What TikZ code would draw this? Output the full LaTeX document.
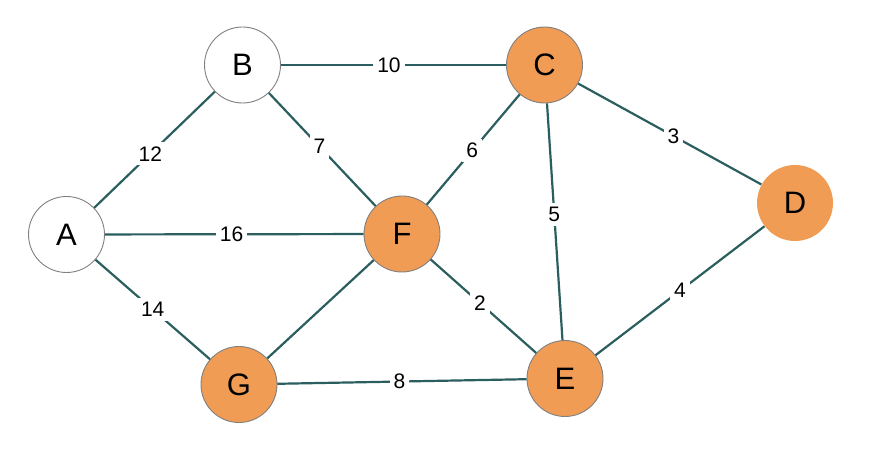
\documentclass[tikz,border=0pt]{standalone}
\usepackage{fontspec}
\setmainfont{Liberation Sans}
\definecolor{nodeorange}{HTML}{F09C55}
\definecolor{edgeteal}{HTML}{2B5E5E}
\definecolor{bordergray}{HTML}{808080}
\tikzset{
  vtx/.style={circle, minimum size=76pt, inner sep=0pt, draw=bordergray, line width=0.9pt, font=\fontsize{31}{31}\selectfont},
  vwhite/.style={vtx, fill=white},
  vorange/.style={vtx, fill=nodeorange},
  vorangenb/.style={vtx, fill=nodeorange, draw=none},
  edge/.style={draw=edgeteal, line width=2.2pt},
  wlabel/.style={fill=white, inner sep=4pt, text=black, font=\fontsize{21}{21}\selectfont}
}
\begin{document}
\begin{tikzpicture}[x=1pt,y=1pt]
\useasboundingbox (0,0) rectangle (873,463);
\node[vwhite] (A) at (66.5,228.5) {A};
\node[vwhite] (B) at (242.5,398) {B};
\node[vorange] (C) at (544.5,398) {C};
\node[vorangenb] (D) at (795,260) {D};
\node[vorange] (E) at (565,84.5) {E};
\node[vorange] (F) at (402,229) {F};
\node[vorange] (G) at (239,78.5) {G};
\path[edge] (A) -- node[wlabel, pos=0.466] {12} (B);
\path[edge] (B) -- node[wlabel, pos=0.48] {10} (C);
\path[edge] (B) -- node[wlabel, pos=0.475] {7} (F);
\path[edge] (A) -- node[wlabel, pos=0.49] {16} (F);
\path[edge] (A) -- node[wlabel] {14} (G);
\path[edge] (F) -- node[wlabel, pos=0.49] {6} (C);
\path[edge] (C) -- node[wlabel, pos=0.47] {5} (E);
\path[edge] (C) -- node[wlabel, pos=0.52] {3} (D);
\path[edge] (F) -- node[wlabel, pos=0.466] {2} (E);
\path[edge] (E) -- node[wlabel] {4} (D);
\path[edge] (F) -- (G);
\path[edge] (G) -- node[wlabel, pos=0.49] {8} (E);
\end{tikzpicture}
\end{document}
